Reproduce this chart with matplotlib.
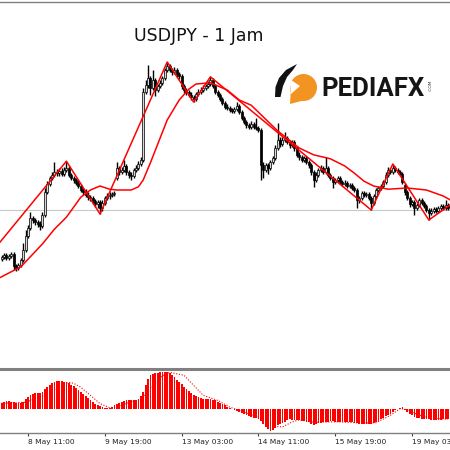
import numpy as np
import matplotlib
matplotlib.use("Agg")
import matplotlib.pyplot as plt
from matplotlib.patches import Circle, Polygon

# ---------------- data ----------------
closes = [
    143.82, 143.88, 143.80, 143.85, 143.90, 143.60, 143.55, 143.62, 143.75, 144.00,
    144.35, 144.55, 144.80, 144.75, 144.70, 144.65, 144.60, 144.88, 145.45, 145.65,
    145.80, 145.88, 145.95, 145.92, 145.98, 145.90, 146.00, 146.05, 145.88, 145.80,
    145.75, 145.68, 145.60, 145.50, 145.45, 145.38, 145.32, 145.30, 145.22, 145.15,
    145.20, 145.05, 145.18, 145.30, 145.35, 145.38, 145.40, 145.42, 146.05, 145.95,
    146.00, 146.10, 145.95, 145.88, 145.85, 146.00, 146.05, 146.15, 146.25, 147.95,
    148.12, 148.30, 148.05, 148.25, 148.00, 148.10, 148.18, 148.30, 148.50, 148.60,
    148.50, 148.45, 148.50, 148.40, 148.35, 148.10, 148.00, 147.95, 147.88, 147.82,
    147.78, 147.90, 147.95, 148.00, 148.05, 148.10, 148.15, 148.25, 148.10, 147.95,
    147.88, 147.78, 147.68, 147.58, 147.55, 147.50, 147.48, 147.52, 147.60, 147.45,
    147.30, 147.20, 147.12, 147.08, 147.15, 147.08, 147.05, 147.00, 146.12, 146.00,
    146.12, 146.05, 146.20, 146.30, 146.55, 146.75, 146.65, 146.75, 146.80, 146.70,
    146.62, 146.70, 146.55, 146.38, 146.32, 146.25, 146.30, 146.20, 146.12, 145.95,
    145.75, 145.88, 146.00, 146.05, 145.95, 146.05, 145.88, 145.80, 145.70, 145.75,
    145.80, 145.70, 145.65, 145.68, 145.60, 145.62, 145.55, 145.50, 145.25, 145.30,
    145.42, 145.38, 145.40, 145.30, 145.18, 145.35, 145.50, 145.55, 145.60, 145.70,
    145.88, 146.00, 145.95, 146.05, 146.00, 145.95, 145.90, 145.70, 145.45, 145.30,
    145.15, 145.20, 145.05, 145.12, 145.25, 145.18, 145.10, 145.00, 144.92, 144.98,
    145.02, 144.98, 145.05, 145.10, 145.05, 145.12, 145.05,
]

opens = [
    143.78, 143.82, 143.88, 143.80, 143.85, 143.90, 143.60, 143.55, 143.62, 143.75,
    144.00, 144.35, 144.55, 144.80, 144.75, 144.70, 144.65, 144.60, 144.88, 145.45,
    145.65, 145.80, 145.88, 145.95, 145.92, 145.98, 145.90, 146.00, 146.05, 145.88,
    145.80, 145.75, 145.68, 145.60, 145.50, 145.45, 145.38, 145.32, 145.30, 145.22,
    145.15, 145.20, 145.05, 145.18, 145.30, 145.35, 145.38, 145.40, 145.80, 146.05,
    145.95, 146.00, 146.10, 145.95, 145.88, 145.85, 146.00, 146.05, 146.15, 146.25,
    147.95, 148.12, 148.30, 148.05, 148.25, 148.00, 148.10, 148.18, 148.30, 148.50,
    148.60, 148.50, 148.45, 148.50, 148.40, 148.35, 148.10, 148.00, 147.95, 147.88,
    147.82, 147.78, 147.90, 147.95, 148.00, 148.05, 148.10, 148.15, 148.25, 148.10,
    147.95, 147.88, 147.78, 147.68, 147.58, 147.55, 147.50, 147.48, 147.52, 147.60,
    147.45, 147.30, 147.20, 147.12, 147.08, 147.15, 147.08, 147.05, 147.00, 146.12,
    146.00, 146.12, 146.05, 146.20, 146.30, 146.55, 146.75, 146.65, 146.75, 146.80,
    146.70, 146.62, 146.70, 146.55, 146.38, 146.32, 146.25, 146.30, 146.20, 146.12,
    145.95, 145.75, 145.88, 146.00, 146.05, 145.95, 146.05, 145.88, 145.80, 145.70,
    145.75, 145.80, 145.70, 145.65, 145.68, 145.60, 145.62, 145.55, 145.50, 145.25,
    145.30, 145.42, 145.38, 145.40, 145.30, 145.18, 145.35, 145.50, 145.55, 145.60,
    145.70, 145.88, 146.00, 145.95, 146.05, 146.00, 145.95, 145.90, 145.62, 145.45,
    145.30, 145.15, 145.20, 145.05, 145.12, 145.25, 145.18, 145.10, 145.00, 144.92,
    144.98, 145.02, 144.98, 145.05, 145.10, 145.05, 145.12,
]

highs = [
    143.87, 143.93, 143.93, 143.90, 143.96, 143.94, 143.66, 143.68, 143.80, 144.18,
    144.50, 144.62, 144.95, 144.86, 144.80, 144.76, 144.72, 144.94, 145.55, 145.72,
    145.86, 145.95, 146.20, 146.02, 146.05, 146.04, 146.08, 146.22, 146.10, 145.93,
    145.86, 145.80, 145.74, 145.66, 145.56, 145.52, 145.44, 145.38, 145.36, 145.28,
    145.26, 145.24, 145.24, 145.36, 145.42, 145.45, 145.46, 145.48, 146.20, 146.10,
    146.08, 146.25, 146.14, 146.00, 145.94, 146.06, 146.12, 146.22, 146.32, 148.05,
    148.25, 148.62, 148.36, 148.50, 148.30, 148.16, 148.24, 148.36, 148.56, 148.70,
    148.65, 148.56, 148.57, 148.55, 148.46, 148.40, 148.16, 148.06, 148.00, 147.94,
    147.88, 147.96, 148.02, 148.07, 148.12, 148.16, 148.22, 148.33, 148.29, 148.14,
    148.00, 147.93, 147.83, 147.73, 147.64, 147.60, 147.56, 147.58, 147.70, 147.64,
    147.50, 147.35, 147.26, 147.18, 147.22, 147.20, 147.30, 147.10, 147.04, 146.20,
    146.18, 146.18, 146.26, 146.36, 146.62, 147.18, 146.82, 146.82, 146.95, 146.86,
    146.76, 146.76, 146.75, 146.60, 146.44, 146.38, 146.36, 146.35, 146.26, 146.17,
    146.00, 145.94, 146.06, 146.12, 146.10, 146.32, 146.10, 145.93, 145.85, 145.81,
    145.86, 145.85, 145.76, 145.74, 145.73, 145.68, 145.67, 145.61, 145.55, 145.36,
    145.48, 145.48, 145.46, 145.45, 145.35, 145.41, 145.56, 145.61, 145.66, 145.76,
    145.94, 146.07, 146.06, 146.15, 146.10, 146.06, 146.01, 145.95, 145.67, 145.50,
    145.35, 145.26, 145.25, 145.18, 145.31, 145.30, 145.23, 145.15, 145.05, 145.04,
    145.08, 145.07, 145.11, 145.16, 145.15, 145.25, 145.17,
]

lows = [
    143.73, 143.77, 143.75, 143.74, 143.80, 143.50, 143.48, 143.50, 143.58, 143.70,
    143.95, 144.30, 144.50, 144.68, 144.62, 144.58, 144.50, 144.55, 144.82, 145.40,
    145.60, 145.74, 145.82, 145.85, 145.86, 145.84, 145.85, 145.95, 145.82, 145.74,
    145.68, 145.62, 145.54, 145.44, 145.38, 145.32, 145.26, 145.22, 145.16, 145.08,
    145.06, 144.90, 144.98, 145.12, 145.25, 145.28, 145.32, 145.34, 145.75, 145.88,
    145.90, 145.95, 145.88, 145.80, 145.75, 145.80, 145.95, 146.00, 146.10, 146.20,
    147.90, 148.05, 147.88, 148.00, 147.85, 147.94, 148.04, 148.12, 148.25, 148.44,
    148.44, 148.38, 148.40, 148.33, 148.28, 148.02, 147.93, 147.88, 147.82, 147.75,
    147.70, 147.73, 147.85, 147.90, 147.95, 148.00, 148.05, 148.10, 148.04, 147.90,
    147.82, 147.72, 147.62, 147.52, 147.49, 147.44, 147.42, 147.43, 147.47, 147.40,
    147.24, 147.14, 147.06, 147.02, 147.03, 147.02, 146.99, 146.94, 145.75, 145.80,
    145.94, 145.90, 145.99, 146.14, 146.25, 146.50, 146.58, 146.60, 146.70, 146.64,
    146.56, 146.57, 146.48, 146.32, 146.26, 146.19, 146.20, 146.14, 146.06, 145.88,
    145.58, 145.70, 145.83, 145.95, 145.89, 145.90, 145.82, 145.74, 145.55, 145.65,
    145.70, 145.64, 145.59, 145.60, 145.54, 145.55, 145.49, 145.44, 145.05, 145.18,
    145.25, 145.32, 145.32, 145.24, 145.00, 145.12, 145.30, 145.45, 145.50, 145.55,
    145.65, 145.83, 145.89, 145.90, 145.94, 145.89, 145.84, 145.64, 145.38, 145.24,
    145.08, 145.10, 144.88, 145.00, 145.07, 145.12, 145.04, 144.94, 144.75, 144.87,
    144.93, 144.92, 144.93, 145.00, 144.99, 145.00, 145.00,
]

# moving average (read points)
ma_bars = [-1, 8, 17, 22, 27, 33, 37, 41, 45, 48, 54, 57, 59, 62, 69, 74, 78, 81,
           87, 94, 99, 104, 115, 124, 130, 137, 143, 147, 151, 155, 161, 169, 177,
           184, 187]
ma_vals = [143.30, 143.58, 144.15, 144.52, 144.82, 145.32, 145.50, 145.60, 145.52,
           145.50, 145.50, 145.58, 145.75, 146.18, 147.25, 147.75, 148.02, 148.15,
           148.18, 148.00, 147.75, 147.62, 146.98, 146.55, 146.38, 146.28, 146.10,
           145.92, 145.72, 145.60, 145.52, 145.55, 145.50, 145.35, 145.25]

# zigzag pivots
zz_bars = [-8, 27, 41, 69, 80, 87, 154, 163, 178, 190]
zz_vals = [143.66, 146.22, 144.90, 148.70, 147.70, 148.33, 145.00, 146.15, 144.75, 145.26]

# MACD histogram
hist = [
    0.067, 0.075, 0.080, 0.082, 0.078, 0.070, 0.063, 0.060, 0.063, 0.075,
    0.100, 0.120, 0.140, 0.155, 0.160, 0.163, 0.165, 0.175, 0.200, 0.225,
    0.247, 0.260, 0.275, 0.282, 0.285, 0.283, 0.278, 0.270, 0.260, 0.245,
    0.230, 0.215, 0.195, 0.175, 0.155, 0.135, 0.115, 0.095, 0.075, 0.057,
    0.040, 0.030, 0.022, 0.018, 0.015, 0.013, 0.025, 0.040, 0.055, 0.065,
    0.075, 0.080, 0.090, 0.095, 0.097, 0.097, 0.098, 0.105, 0.130, 0.173,
    0.240, 0.307, 0.340, 0.357, 0.363, 0.368, 0.373, 0.377, 0.375, 0.373,
    0.360, 0.345, 0.320, 0.295, 0.273, 0.250, 0.225, 0.207, 0.185, 0.165,
    0.145, 0.130, 0.120, 0.110, 0.107, 0.105, 0.102, 0.100, 0.095, 0.090,
    0.075, 0.060, 0.050, 0.040, 0.025, 0.010, 0.003, -0.005, -0.015, -0.027,
    -0.035, -0.045, -0.053, -0.065, -0.077, -0.083, -0.088, -0.093, -0.120, -0.150,
    -0.177, -0.200, -0.220, -0.210, -0.185, -0.160, -0.145, -0.135, -0.127, -0.110,
    -0.100, -0.102, -0.105, -0.108, -0.110, -0.115, -0.120, -0.125, -0.127, -0.143,
    -0.153, -0.150, -0.140, -0.133, -0.130, -0.125, -0.122, -0.120, -0.120, -0.122,
    -0.123, -0.125, -0.127, -0.127, -0.125, -0.127, -0.130, -0.135, -0.140, -0.143,
    -0.145, -0.143, -0.143, -0.145, -0.143, -0.138, -0.130, -0.115, -0.100, -0.085,
    -0.070, -0.060, -0.045, -0.025, -0.010, 0.005, 0.015, 0.023, -0.010, -0.030,
    -0.045, -0.060, -0.077, -0.085, -0.090, -0.093, -0.095, -0.098, -0.100, -0.105,
    -0.110, -0.110, -0.107, -0.103, -0.100, -0.097, -0.093,
]

sig_bars = [0, 10, 17, 22, 26, 28, 30, 33, 37, 41, 45, 48, 54, 58, 62, 66, 70, 76,
            80, 84, 90, 95, 100, 105, 110, 114, 117, 121, 124, 130, 140, 150, 156,
            162, 166, 169, 173, 178, 186]
sig_vals = [0.06, 0.07, 0.13, 0.20, 0.255, 0.27, 0.26, 0.22, 0.14, 0.057, 0.017,
            0.025, 0.075, 0.095, 0.20, 0.32, 0.37, 0.34, 0.24, 0.14, 0.09, 0.023,
            -0.02, -0.06, -0.10, -0.17, -0.177, -0.127, -0.105, -0.13, -0.125,
            -0.138, -0.135, -0.06, 0.007, -0.005, -0.05, -0.085, -0.10]

tick_bars = [11, 43, 75, 107, 139, 171]
tick_labels = ["8 May 11:00", "9 May 19:00", "13 May 03:00", "14 May 11:00",
               "15 May 19:00", "19 May 03:00"]

level_line = 145.00
title = "USDJPY - 1 Jam"

# ---------------- figure ----------------
W = H = 450
fig = plt.figure(figsize=(4.5, 4.5), dpi=100)
fig.patch.set_facecolor("white")

def fy(px):
    return 1 - px / H

ax = fig.add_axes([0, fy(366.5), 1, fy(1.5) - fy(366.5)])
ax2 = fig.add_axes([0, fy(433.3), 1, fy(368.5) - fy(433.3)])

o = np.array(opens); c = np.array(closes)
h = np.array(highs); l = np.array(lows)
x = np.arange(len(c))

xlim = (-0.667, 186.833)
for a in (ax, ax2):
    a.set_xlim(*xlim)
    a.set_facecolor("white")

ax.set_ylim(141.0875, 150.2125)
ax.axhline(level_line, color="#c8c8c8", lw=0.8, zorder=1)

# candles
ax.vlines(x, l, h, color="black", lw=1.0, zorder=3)
up = c >= o
body_b = np.minimum(o, c)
body_h = np.maximum(np.abs(c - o), 0.015)
ax.bar(x[up], body_h[up], bottom=body_b[up], width=0.78, color="#d8d8d8",
       edgecolor="black", linewidth=0.5, zorder=4)
ax.bar(x[~up], body_h[~up], bottom=body_b[~up], width=0.78, color="black",
       edgecolor="black", linewidth=0.5, zorder=4)

ax.plot(ma_bars, ma_vals, color="#ff0000", lw=1.1, zorder=5)
ax.plot(zz_bars, zz_vals, color="#ff0000", lw=1.1, zorder=5)

ax.set_xticks([]); ax.set_yticks([])
for s in ("left", "right", "bottom"):
    ax.spines[s].set_visible(False)
ax.spines["top"].set_color("#808080")
ax.spines["top"].set_linewidth(1.0)

# MACD
ax2.set_ylim(-0.24, 0.408)
ax2.bar(x, hist, width=0.75, color="#ff0000", linewidth=0, zorder=2)
ax2.plot(sig_bars, sig_vals, color="#ff0000", lw=0.8, ls=(0, (1, 1.5)), zorder=3)
ax2.set_yticks([])
for s in ("left", "right"):
    ax2.spines[s].set_visible(False)
ax2.spines["top"].set_color("#808080")
ax2.spines["top"].set_linewidth(2.2)
ax2.spines["bottom"].set_color("#808080")
ax2.spines["bottom"].set_linewidth(1.0)
ax2.set_xticks(tick_bars)
ax2.set_xticklabels(tick_labels, fontsize=5.4, color="#202020")
ax2.tick_params(axis="x", direction="out", length=2.5, width=0.8,
                color="#404040", pad=1.5)
for lbl in ax2.get_xticklabels():
    lbl.set_ha("left")

# title
fig.text(199 / W, fy(36), title, ha="center", va="center", fontsize=12.5,
         color="#111111", family="DejaVu Sans")

# logo
axl = fig.add_axes([0, 0, 1, 1], zorder=10)
axl.set_xlim(0, W); axl.set_ylim(H, 0); axl.axis("off")
axl.patch.set_alpha(0)
orange = "#F39322"
axl.add_patch(Circle((303.5, 87.5), 13.5, color=orange, lw=0))
axl.add_patch(Polygon([(291, 88), (290, 104), (305, 100)], closed=True,
                      color=orange, lw=0))
axl.add_patch(Polygon([(289.5, 79), (300, 86), (291, 94)], closed=True,
                      color="white", lw=0))
axl.add_patch(Polygon([(275, 97), (275.5, 87), (279, 78), (286, 70), (297, 64),
                       (293, 70), (287, 77), (283, 86), (280.5, 97)],
                      closed=True, color="#111111", lw=0))
fig.text(321 / W, fy(96), "PEDIAFX", ha="left", va="baseline", fontsize=18.5,
         fontweight="bold", family="Roboto", color="#151515")
fig.text(431 / W, fy(85), ".COM", ha="center", va="center", fontsize=3.2,
         rotation=90, color="#333333")

fig.savefig("out.png", dpi=100, facecolor="white")
